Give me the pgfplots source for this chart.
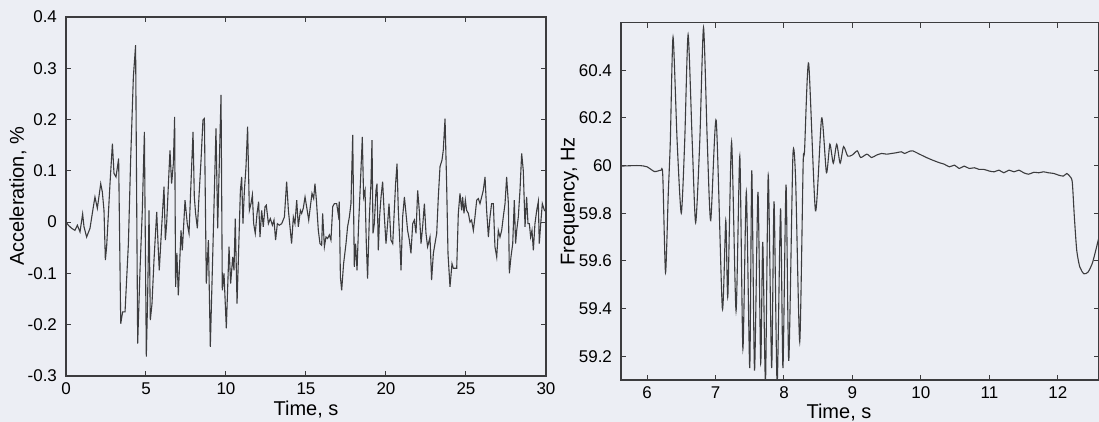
\documentclass[border=0pt]{standalone}
\usepackage{pgfplots}
\pgfplotsset{compat=1.18}
\usepackage{fontspec}
\setmainfont{Liberation Sans}

\definecolor{paper}{RGB}{236,238,244}
\definecolor{ink}{RGB}{60,60,62}

\pgfplotsset{
  scanplot/.style={
    scale only axis,
    anchor=south west,
    axis line style={ink, line width=0.6pt},
    tick style={ink, line width=0.5pt},
    tick align=inside,
    major tick length=2.6pt,
    ticklabel style={font=\fontsize{8.5}{10}\selectfont},
    label style={font=\fontsize{8.5}{10}\selectfont},
    yticklabel style={xshift=-1pt},
  },
}

\begin{document}
\begin{tikzpicture}
\path[use as bounding box, fill=paper] (-33pt,-23pt) rectangle (516.5pt,188pt);

% left panel: acceleration record
\begin{axis}[scanplot,
    at={(0pt,0pt)},
    width=240pt, height=179.5pt,
    xmin=0, xmax=30, ymin=-0.3, ymax=0.4,
    xtick={0,5,10,15,20,25,30},
    xticklabels={0,5,10,15,20,25,30},
    ytick={-0.3,-0.2,-0.1,0,0.1,0.2,0.3,0.4},
    yticklabels={-0.3,-0.2,-0.1,0,0.1,0.2,0.3,0.4},
    xlabel={Time, s},
    ylabel={Acceleration, \%},
    every axis x label/.style={at={(axis description cs:0.5,-0.094)}, anchor=center},
    every axis y label/.style={at={(axis description cs:-0.1,0.5)}, anchor=center, rotate=90},
]
\addplot[ink, line width=0.55pt] coordinates {
(0,0) (0.15,-0.006) (0.35,-0.012) (0.56,-0.016) (0.71,-0.006) (0.875,-0.019)
(1.04,0.016) (1.125,-0.009) (1.29,-0.029) (1.5,-0.012) (1.71,0.03) (1.81,0.049)
(1.96,0.027) (2.17,0.075) (2.27,0.059) (2.375,0.023) (2.46,-0.074) (2.54,-0.048)
(2.75,0.075) (2.9,0.153) (3.0,0.095) (3.125,0.088) (3.29,0.124) (3.42,-0.198)
(3.54,-0.175) (3.69,-0.175) (3.9,-0.042) (4.04,0.121) (4.21,0.283) (4.35,0.345)
(4.48,-0.237) (4.625,-0.094) (4.77,0.023) (4.9,0.176) (5.02,-0.262) (5.1,-0.152)
(5.19,0.023) (5.27,-0.191) (5.375,-0.159) (5.5,-0.074) (5.67,0.02) (5.77,-0.055)
(5.83,-0.094) (5.98,-0.009) (6.125,0.069) (6.21,-0.035) (6.29,-0.003) (6.44,0.101)
(6.5,0.14) (6.6,0.075) (6.71,0.114) (6.79,0.205) (6.85,-0.126) (6.93,-0.06)
(7.02,-0.143) (7.19,-0.016) (7.27,-0.055) (7.44,0.043) (7.58,-0.003) (7.69,-0.022)
(7.81,0.075) (7.94,0.176) (8.02,0.049) (8.1,0.017) (8.21,-0.012) (8.31,0.049)
(8.44,0.121) (8.56,0.199) (8.65,0.202) (8.77,-0.12) (8.9,-0.035) (9.02,-0.243)
(9.19,-0.042) (9.375,0.183) (9.48,-0.012) (9.69,0.248) (9.77,-0.133) (9.875,-0.1)
(10.02,-0.207) (10.19,-0.048) (10.29,-0.12) (10.42,-0.068) (10.5,-0.094) (10.58,0.007)
(10.69,-0.159) (10.79,-0.055) (10.9,0.062) (10.98,0.088) (11.06,-0.003) (11.15,0.062)
(11.25,0.108) (11.35,0.186) (11.46,0.023) (11.56,0.036) (11.65,0.053) (11.73,-0.003)
(11.83,-0.022) (11.94,0.017) (12.04,0.04) (12.125,-0.029) (12.23,0.023) (12.33,-0.009)
(12.44,0.03) (12.52,0.033) (12.65,-0.003) (12.77,0.007) (12.9,-0.006) (13.0,0.004)
(13.1,-0.035) (13.21,-0.003) (13.33,-0.006) (13.48,-0.003) (13.65,0.01) (13.79,0.079)
(13.9,0.023) (14.0,-0.009) (14.1,-0.042) (14.21,0.01) (14.31,-0.003) (14.42,0.043)
(14.52,-0.009) (14.65,0.023) (14.73,0.017) (14.83,0.027) (14.94,0.049) (15.04,0.03)
(15.17,0.004) (15.27,0.03) (15.375,0.056) (15.48,0.046) (15.56,0.075) (15.65,0.043)
(15.77,-0.016) (15.875,-0.042) (15.98,-0.045) (16.04,0.017) (16.15,-0.048) (16.25,-0.029)
(16.35,-0.032) (16.46,-0.025) (16.56,-0.035) (16.67,0.03) (16.77,0.036) (16.92,0.036)
(17.02,0.014) (17.08,0.04) (17.15,-0.107) (17.23,-0.133) (17.35,-0.081) (17.5,-0.042)
(17.6,-0.009) (17.71,0.01) (17.81,0.036) (17.92,0.17) (18.02,-0.087) (18.1,-0.042)
(18.19,-0.094) (18.29,-0.003) (18.4,0.075) (18.52,0.166) (18.6,0.049) (18.69,0.062)
(18.77,-0.042) (18.85,-0.11) (18.96,0.01) (19.06,0.075) (19.125,0.16) (19.19,-0.022)
(19.27,-0.003) (19.375,0.062) (19.44,0.075) (19.52,-0.055) (19.6,0.01) (19.69,0.049)
(19.79,0.079) (19.9,0.01) (20.0,-0.042) (20.1,-0.003) (20.19,0.036) (20.31,-0.035)
(20.42,-0.042) (20.52,0.023) (20.6,0.075) (20.69,0.114) (20.77,0.023) (20.85,-0.029)
(20.94,-0.094) (21.04,0.01) (21.15,0.049) (21.25,0.017) (21.35,-0.016) (21.46,-0.035)
(21.56,-0.061) (21.67,-0.003) (21.77,0.004) (21.875,-0.022) (21.98,0.062) (22.08,0.023)
(22.19,-0.042) (22.29,-0.009) (22.4,0.036) (22.5,-0.022) (22.6,-0.048) (22.65,-0.042)
(22.75,-0.029) (22.85,-0.113) (22.96,-0.061) (23.06,-0.042) (23.17,-0.022) (23.27,0.049)
(23.375,0.108) (23.5,0.121) (23.58,0.14) (23.69,0.202) (23.79,0.075) (23.875,-0.061)
(24.0,-0.126) (24.125,-0.081) (24.21,-0.09) (24.42,-0.09) (24.52,0.017) (24.625,0.056)
(24.73,0.023) (24.79,0.049) (24.875,0.017) (24.96,0.043) (25.04,0.023) (25.15,0.017)
(25.25,0.0) (25.35,0.004) (25.46,-0.016) (25.56,0.01) (25.67,0.043) (25.77,0.046)
(25.875,0.036) (25.98,0.049) (26.08,0.062) (26.19,0.088) (26.29,0.023) (26.4,-0.029)
(26.5,0.01) (26.6,0.036) (26.71,0.036) (26.81,-0.048) (26.92,-0.068) (27.02,-0.016)
(27.125,-0.029) (27.23,-0.016) (27.33,0.01) (27.44,0.036) (27.54,0.088) (27.65,0.036)
(27.71,-0.1) (27.81,-0.068) (27.92,-0.042) (28.02,0.043) (28.1,-0.042) (28.17,-0.016)
(28.27,0.01) (28.375,0.062) (28.48,0.134) (28.58,0.101) (28.69,-0.009) (28.79,0.049)
(28.875,-0.003) (28.96,-0.003) (29.04,-0.029) (29.125,-0.016) (29.21,-0.055) (29.31,-0.003)
(29.42,0.023) (29.52,0.04) (29.58,-0.042) (29.67,-0.003) (29.77,0.036) (29.9,0.023)
(30,0.02)
};
\end{axis}

% right panel: frequency record
\begin{axis}[scanplot,
    at={(277.5pt,-2pt)},
    width=239pt, height=178.65pt,
    xmin=5.62, xmax=12.6, ymin=59.1, ymax=60.6,
    xtick={6,7,8,9,10,11,12},
    xticklabels={6,7,8,9,10,11,12},
    ytick={59.2,59.4,59.6,59.8,60,60.2,60.4},
    yticklabels={59.2,59.4,59.6,59.8,60,60.2,60.4},
    xlabel={Time, s},
    ylabel={Frequency, Hz},
    every axis x label/.style={at={(axis description cs:0.456,-0.092)}, anchor=center},
    every axis y label/.style={at={(axis description cs:-0.107,0.5)}, anchor=center, rotate=90},
]
\addplot[ink, line width=0.55pt, smooth, tension=0.4] coordinates {
(5.62,59.998) (5.8,60.0) (5.9,60.0) (6.0,59.995) (6.11,59.975) (6.2,59.98)
(6.23,59.96) (6.27,59.55) (6.31,59.88) (6.34,60.1) (6.38,60.54) (6.44,60.1)
(6.5,59.80) (6.55,60.1) (6.6,60.55) (6.66,60.1) (6.71,59.76) (6.77,60.1)
(6.825,60.58) (6.88,60.1) (6.93,59.77) (7.01,60.19) (7.1,59.40) (7.15,59.77)
(7.18,59.45) (7.235,60.10) (7.3,59.39) (7.355,60.04) (7.4,59.23) (7.45,59.89)
(7.5,59.15) (7.53,59.98) (7.57,59.14) (7.62,59.89) (7.66,59.17) (7.69,59.68)
(7.73,59.09) (7.77,59.96) (7.82,59.15) (7.855,59.85) (7.9,59.08) (7.95,59.82)
(7.985,59.15) (8.03,59.92) (8.07,59.18) (8.13,60.04) (8.17,59.94) (8.23,59.26)
(8.28,60.01) (8.3,60.06) (8.36,60.43) (8.46,59.81) (8.55,60.20) (8.62,59.97)
(8.67,60.09) (8.72,60.01) (8.77,60.09) (8.82,60.01) (8.87,60.08) (8.93,60.04)
(9.0,60.045) (9.07,60.062) (9.12,60.034) (9.21,60.048) (9.28,60.034) (9.35,60.044)
(9.425,60.051) (9.5,60.048) (9.57,60.051) (9.64,60.054) (9.715,60.058) (9.76,60.051)
(9.84,60.061) (9.88,60.062) (9.98,60.048) (10.08,60.034) (10.17,60.023) (10.27,60.012)
(10.34,60.006) (10.415,59.995) (10.49,60.002) (10.56,59.988) (10.63,59.998) (10.705,59.988)
(10.78,59.991) (10.85,59.984) (10.92,59.984) (11.0,59.977) (11.07,59.974) (11.14,59.981)
(11.21,59.97) (11.285,59.981) (11.36,59.974) (11.43,59.981) (11.5,59.97) (11.57,59.964)
(11.65,59.972) (11.72,59.97) (11.79,59.974) (11.86,59.97) (11.94,59.967) (12.01,59.96)
(12.08,59.956) (12.13,59.967) (12.18,59.953) (12.21,59.93) (12.24,59.785) (12.275,59.644)
(12.32,59.574) (12.38,59.546) (12.44,59.553) (12.5,59.588) (12.54,59.63) (12.6,59.70)
};
\end{axis}
\end{tikzpicture}
\end{document}
